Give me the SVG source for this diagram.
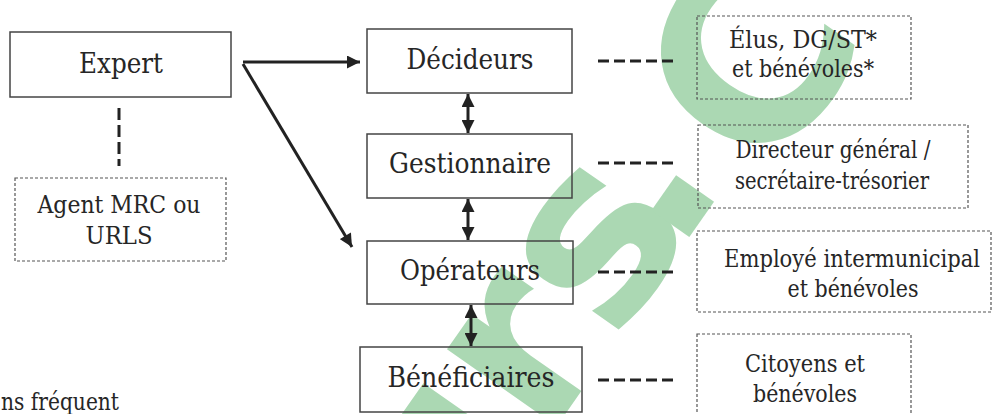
<svg xmlns="http://www.w3.org/2000/svg" width="993" height="414" viewBox="0 0 993 414">
  <style>
    .main { fill: none; stroke: #444; stroke-width: 1.5; }
    .dot { fill: none; stroke: #555; stroke-width: 1.2; stroke-dasharray: 3 2; }
    .t { font-family: 'DejaVu Serif', 'Liberation Serif', serif; fill: #262626; text-anchor: middle; }
    .big { font-size: 28.5px; }
    .sm { font-size: 23.5px; }
    .arrow { stroke: #222; stroke-width: 3; fill: none; }
    .dash { stroke: #222; stroke-width: 3; fill: none; stroke-dasharray: 11 5; }
    .wm { font-family: 'DejaVu Sans', sans-serif; font-weight: bold; font-size: 245px; fill: #abd8b3; }
  </style>
  <defs>
    <marker id="ah" viewBox="0 0 10 10" refX="10" refY="5" markerWidth="14" markerHeight="13" markerUnits="userSpaceOnUse" orient="auto-start-reverse">
      <path d="M0,0 L10,5 L0,10 z" fill="#222"/>
    </marker>
  </defs>
  <rect width="993" height="414" fill="#fff"/>

  <g id="watermark">
    <text class="wm" transform="translate(445,586) rotate(-55)" x="0" y="0">urs<tspan dx="-40">.</tspan><tspan dx="20" dy="35">CO</tspan></text>
  </g>

  <g id="connectors">
    <line class="arrow" x1="243" y1="62" x2="360" y2="62" marker-end="url(#ah)"/>
    <line class="arrow" x1="243" y1="64" x2="352" y2="247" marker-end="url(#ah)"/>
    <line class="arrow" x1="468" y1="94" x2="468" y2="133" marker-start="url(#ah)" marker-end="url(#ah)"/>
    <line class="arrow" x1="468" y1="199" x2="468" y2="240" marker-start="url(#ah)" marker-end="url(#ah)"/>
    <line class="arrow" x1="471" y1="305" x2="471" y2="346" marker-start="url(#ah)" marker-end="url(#ah)"/>
    <line class="dash" x1="119" y1="108" x2="119" y2="166" style="stroke-dasharray:12 5"/>
    <line class="dash" x1="598" y1="61" x2="677" y2="61"/>
    <line class="dash" x1="598" y1="163" x2="677" y2="163"/>
    <line class="dash" x1="598" y1="272" x2="677" y2="272"/>
    <line class="dash" x1="598" y1="380" x2="677" y2="380"/>
  </g>

  <g id="expert">
    <rect class="main" x="10" y="32" width="221" height="65"/>
    <text class="t big" x="121" y="73" textLength="84" lengthAdjust="spacingAndGlyphs">Expert</text>
  </g>
  <g id="agent">
    <rect class="dot" x="15" y="178" width="211" height="83"/>
    <text class="t sm" x="119" y="213" textLength="163" lengthAdjust="spacingAndGlyphs">Agent MRC ou</text>
    <text class="t sm" x="119" y="244" textLength="67" lengthAdjust="spacingAndGlyphs">URLS</text>
  </g>
  <g id="decideurs">
    <rect class="main" x="367" y="29" width="205" height="64"/>
    <text class="t big" x="470" y="69" textLength="127" lengthAdjust="spacingAndGlyphs">Décideurs</text>
  </g>
  <g id="gestionnaire">
    <rect class="main" x="367" y="134" width="205" height="64"/>
    <text class="t big" x="470" y="173" textLength="162" lengthAdjust="spacingAndGlyphs">Gestionnaire</text>
  </g>
  <g id="operateurs">
    <rect class="main" x="367" y="241" width="206" height="63"/>
    <text class="t big" x="470" y="280" textLength="140" lengthAdjust="spacingAndGlyphs">Opérateurs</text>
  </g>
  <g id="beneficiaires">
    <rect class="main" x="360" y="347" width="222" height="65"/>
    <text class="t big" x="471" y="387" textLength="167" lengthAdjust="spacingAndGlyphs">Bénéficiaires</text>
  </g>
  <g id="elus">
    <rect class="dot" x="697" y="16" width="214" height="83"/>
    <text class="t sm" x="803" y="48" textLength="148" lengthAdjust="spacingAndGlyphs">Élus, DG/ST*</text>
    <text class="t sm" x="803" y="77" textLength="142" lengthAdjust="spacingAndGlyphs">et bénévoles*</text>
  </g>
  <g id="directeur">
    <rect class="dot" x="698" y="125" width="270" height="83"/>
    <text class="t sm" x="833" y="158" textLength="195" lengthAdjust="spacingAndGlyphs">Directeur général /</text>
    <text class="t sm" x="832" y="189" textLength="194" lengthAdjust="spacingAndGlyphs">secrétaire-trésorier</text>
  </g>
  <g id="employe">
    <rect class="dot" x="697" y="231" width="294" height="81"/>
    <text class="t sm" x="852" y="267" textLength="256" lengthAdjust="spacingAndGlyphs">Employé intermunicipal</text>
    <text class="t sm" x="853" y="297" textLength="131" lengthAdjust="spacingAndGlyphs">et bénévoles</text>
  </g>
  <g id="citoyens">
    <rect class="dot" x="697" y="334" width="214" height="90"/>
    <text class="t sm" x="805" y="372" textLength="120" lengthAdjust="spacingAndGlyphs">Citoyens et</text>
    <text class="t sm" x="805" y="402" textLength="104" lengthAdjust="spacingAndGlyphs">bénévoles</text>
  </g>
  <text class="t sm" x="1" y="410" style="text-anchor:start" textLength="118" lengthAdjust="spacingAndGlyphs">ns fréquent</text>
</svg>
